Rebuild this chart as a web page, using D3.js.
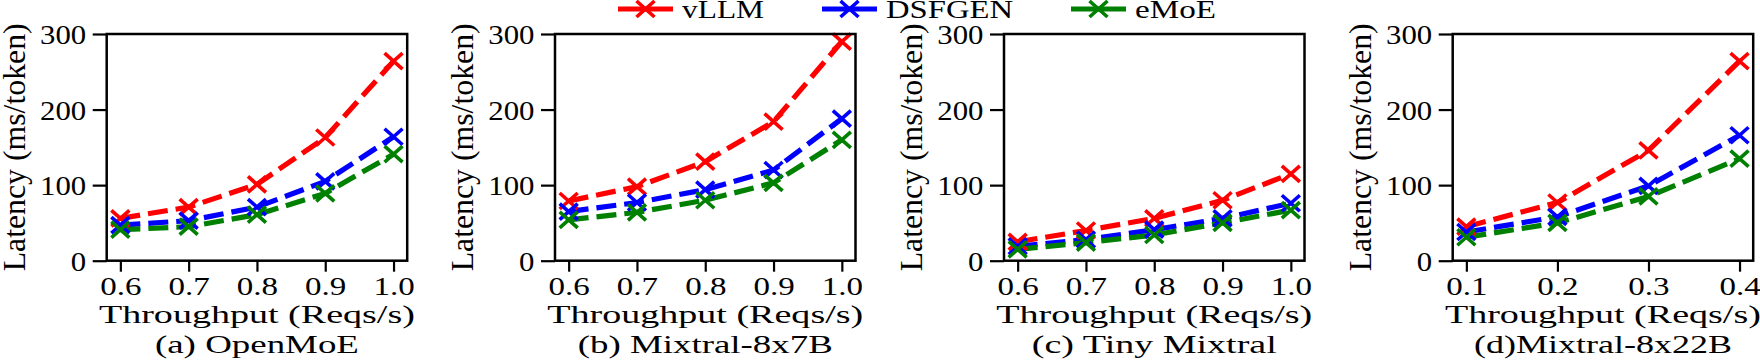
<!DOCTYPE html>
<html>
<head>
<meta charset="utf-8">
<script src="https://cdn.jsdelivr.net/npm/d3@7"></script>
<style>
  html, body { margin: 0; padding: 0; background: #fff; }
  svg { display: block; }
  text { font-family: "Liberation Serif", "Times New Roman", serif; fill: #000; }
</style>
</head>
<body>
<script>
// ---------- data ----------
const seriesNames = ["vLLM", "DSFGEN", "eMoE"];
const seriesColors = ["#ff0000", "#0000ff", "#008000"];

const panelTitles = ["(a) OpenMoE", "(b) Mixtral-8x7B", "(c) Tiny Mixtral", "(d)Mixtral-8x22B"];
const xLabel = "Throughput (Reqs/s)";
const yLabel = "Latency (ms/token)";
const yTicks = [0, 100, 200, 300];

const xA = [0.6, 0.7, 0.8, 0.9, 1.0];
const vllmA = [56, 71, 101, 163, 264];
const dsfgenA = [47, 53, 71, 105, 164];
const emoeA = [41, 45, 61, 89, 141];

const xB = [0.6, 0.7, 0.8, 0.9, 1.0];
const vllmB = [79, 98, 131, 184, 290];
const dsfgenB = [65, 77, 94, 120, 188];
const emoeB = [54, 64, 80, 103, 160];

const xC = [0.6, 0.7, 0.8, 0.9, 1.0];
const vllmC = [25, 40, 56, 80, 115];
const dsfgenC = [19, 28, 41, 56, 76];
const emoeC = [15, 24, 34, 50, 67];

const xD = [0.1, 0.2, 0.3, 0.4];
const vllmD = [45, 77, 146, 264];
const dsfgenD = [38, 58, 99, 166];
const emoeD = [31, 50, 85, 135];

const panels = [
  { x: xA, series: [vllmA, dsfgenA, emoeA] },
  { x: xB, series: [vllmB, dsfgenB, emoeB] },
  { x: xC, series: [vllmC, dsfgenC, emoeC] },
  { x: xD, series: [vllmD, dsfgenD, emoeD] }
];

// ---------- layout ----------
const W = 1760, H = 363;
const plotLefts = [106.7, 555, 1004, 1452.7];
const plotW = 300.5;
const plotTop = 34, plotBottom = 260.7;
const xLabelLen = 316;
const titleLens = [204, 255, 245, 258];
const yLabelLen = 248;
const legendTextLens = [82, 127, 81];
const lineW = 5.2, dash = "20,8";
const mHalfX = 9, mHalfY = 8, mStroke = 3.6;

const svg = d3.select("body").append("svg").attr("width", W).attr("height", H);

function marker(g, cx, cy, color) {
  const p = d3.path();
  p.moveTo(cx - mHalfX, cy - mHalfY); p.lineTo(cx + mHalfX, cy + mHalfY);
  p.moveTo(cx - mHalfX, cy + mHalfY); p.lineTo(cx + mHalfX, cy - mHalfY);
  g.append("path").attr("d", p.toString()).attr("stroke", color)
    .attr("stroke-width", mStroke).attr("fill", "none");
}

const y = d3.scaleLinear().domain([0, 300]).range([plotBottom, plotTop]);

panels.forEach((pd, i) => {
  const left = plotLefts[i];
  const xmin = d3.min(pd.x), xmax = d3.max(pd.x), pad = (xmax - xmin) * 0.05;
  const x = d3.scaleLinear().domain([xmin - pad, xmax + pad]).range([left, left + plotW]);
  const g = svg.append("g");

  // series
  pd.series.forEach((vals, s) => {
    const pts = vals.map((v, k) => [x(pd.x[k]), y(v)]);
    g.append("path").attr("d", d3.line()(pts)).attr("fill", "none")
      .attr("stroke", seriesColors[s]).attr("stroke-width", lineW)
      .attr("stroke-dasharray", dash).attr("stroke-linejoin", "round");
  });
  pd.series.forEach((vals, s) => {
    vals.forEach((v, k) => marker(g, x(pd.x[k]), y(v), seriesColors[s]));
  });

  // frame
  g.append("rect").attr("x", left).attr("y", plotTop).attr("width", plotW)
    .attr("height", plotBottom - plotTop).attr("fill", "none")
    .attr("stroke", "#000").attr("stroke-width", 2.5);

  // axes
  const xAxis = d3.axisBottom(x).tickValues(pd.x).tickFormat(d3.format(".1f"))
    .tickSize(11).tickPadding(6);
  const gx = g.append("g").attr("transform", `translate(0,${plotBottom})`).call(xAxis);
  gx.select(".domain").remove();
  gx.selectAll(".tick line").attr("stroke", "#000").attr("stroke-width", 2.2);
  gx.selectAll(".tick text").attr("font-size", 26)
    .attr("font-family", "Liberation Serif").attr("fill", "#000")
    .attr("y", 0).attr("dy", 0)
    .attr("transform", "translate(0,34.5) scale(1.27,1)");

  const yAxis = d3.axisLeft(y).tickValues(yTicks).tickSize(14).tickPadding(6);
  const gy = g.append("g").attr("transform", `translate(${left},0)`).call(yAxis);
  gy.select(".domain").remove();
  gy.selectAll(".tick line").attr("stroke", "#000").attr("stroke-width", 2.2);
  gy.selectAll(".tick text").attr("font-size", 27.5)
    .attr("font-family", "Liberation Serif").attr("fill", "#000")
    .attr("x", 0).attr("dy", 0)
    .attr("transform", "translate(-20.5,9.5) scale(1.12,1)");

  // labels
  const cx = left + plotW / 2;
  g.append("text").attr("text-anchor", "middle").attr("font-size", 25.5)
    .attr("x", cx).attr("y", 323)
    .attr("textLength", xLabelLen).attr("lengthAdjust", "spacingAndGlyphs").text(xLabel);
  g.append("text").attr("text-anchor", "middle").attr("font-size", 25.5)
    .attr("x", cx).attr("y", 353)
    .attr("textLength", titleLens[i]).attr("lengthAdjust", "spacingAndGlyphs").text(panelTitles[i]);
  g.append("text").attr("text-anchor", "middle").attr("font-size", 25)
    .attr("transform", `translate(${left - 82},${(plotTop + plotBottom) / 2}) scale(1.3,1) rotate(-90)`)
    .attr("textLength", yLabelLen).attr("lengthAdjust", "spacingAndGlyphs")
    .text(yLabel);
});

// ---------- legend ----------
const leg = svg.append("g");
let lx = 618;
const legY = 9, handleW = 55, handlePad = 9, colGap = 58;
seriesNames.forEach((name, s) => {
  leg.append("line").attr("x1", lx).attr("x2", lx + handleW).attr("y1", legY).attr("y2", legY)
    .attr("stroke", seriesColors[s]).attr("stroke-width", lineW);
  marker(leg, lx + handleW / 2, legY, seriesColors[s]);
  leg.append("text").attr("font-size", 25).attr("x", lx + handleW + handlePad).attr("y", 17.5)
    .attr("textLength", legendTextLens[s]).attr("lengthAdjust", "spacingAndGlyphs").text(name);
  lx += handleW + handlePad + legendTextLens[s] + colGap;
});
</script>
</body>
</html>
